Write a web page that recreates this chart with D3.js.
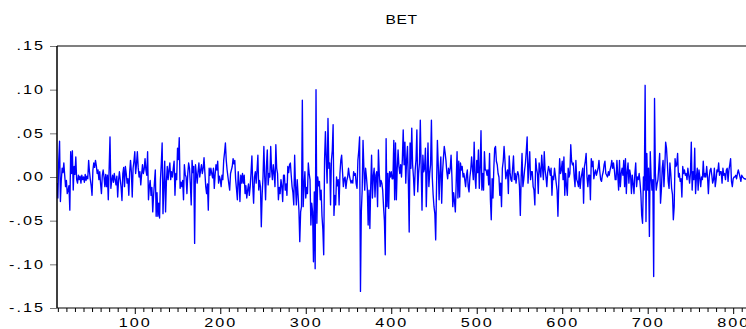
<!DOCTYPE html>
<html>
<head>
<meta charset="utf-8">
<script src="https://cdn.jsdelivr.net/npm/d3@7"></script>
<style>
  html, body { margin: 0; padding: 0; background: #fff; }
  svg { display: block; font-family: "Liberation Sans", Arial, sans-serif; }
</style>
</head>
<body>
<svg id="chart" width="746" height="329"></svg>
<script>
// Series title and axis ticks
const chartTitle = "BET";
const firstObs = 9;
const xTickValues = [100, 200, 300, 400, 500, 600, 700, 800];
const xTickLabels = ["100", "200", "300", "400", "500", "600", "700", "800"];
const yTickValues = [-0.15, -0.10, -0.05, 0.00, 0.05, 0.10, 0.15];
const yTickLabels = ["-.15", "-.10", "-.05", ".00", ".05", ".10", ".15"];

// Daily returns of the BET index, observations 9 .. 815
const betReturns = [
  -.007,-.024,.018,.041,-.028,-.004,.010,.005,.016,.002,
  -.011,-.004,-.019,-.015,-.010,-.038,.029,.004,.030,-.015,
  .012,.003,.023,-.003,-.007,.002,-.003,.001,-.007,.002,
  -.003,.000,-.006,.003,-.004,.001,-.002,.019,.006,-.003,
  -.010,-.021,.008,.016,.011,.019,.013,.004,.008,-.003,
  .006,-.008,-.019,.002,.008,.000,-.011,.003,-.011,.002,
  -.026,.010,.046,-.013,-.004,.002,-.006,.004,-.003,-.009,
  .001,-.023,-.004,.006,-.003,-.012,-.027,.004,.011,-.011,

  .012,.004,-.007,-.002,-.021,.005,.019,.006,-.023,.010,
  .018,.029,.004,.015,.029,.011,.000,.006,-.009,.003,
  .014,.004,.009,.021,.008,.002,.029,-.026,-.011,-.004,
  -.021,-.012,-.040,-.021,-.006,.008,-.045,-.018,-.045,-.030,
  -.047,-.003,.015,.039,-.042,-.010,.018,-.040,-.005,.012,
  -.003,.008,.016,-.003,.006,.000,.010,.018,-.021,.004,
  -.003,.033,.020,.045,-.013,-.006,-.011,-.004,-.026,.014,
  .003,.000,-.019,.004,.016,.010,-.008,-.032,.019,.005,
  .012,-.076,

  .014,.004,-.007,.006,.016,.000,.008,.014,.004,.010,
  .022,.005,-.011,-.019,-.008,-.038,.010,.002,.010,.004,
  -.001,.010,-.013,.003,.014,.008,.018,-.007,.001,-.003,
  -.011,.002,-.003,.019,.028,.039,.019,.008,.000,-.008,
  -.015,.004,.008,.012,.021,.015,.019,-.003,-.014,-.026,
  .006,-.006,-.028,.002,-.007,.004,-.007,.002,-.019,-.010,
  -.024,-.015,-.008,-.021,-.011,.005,.024,-.010,-.030,.000,
  .006,-.007,.008,.025,-.015,-.004,-.011,-.057,-.020,.000,
  .035,.000,

  -.026,.012,.031,-.009,.004,.000,.035,.008,-.003,.014,
  .004,-.011,.037,.010,.004,-.026,-.012,-.019,-.003,-.010,
  -.028,.002,.002,-.015,-.008,-.021,.012,.005,.014,.016,
  .002,-.011,-.018,-.032,.025,-.010,-.032,-.003,-.020,-.038,
  -.074,-.040,-.034,.088,-.034,-.010,.006,-.024,-.012,-.019,
  .016,.004,-.003,-.055,-.030,-.040,-.097,-.017,-.105,.100,
  -.053,.000,-.010,-.005,-.026,-.015,-.045,-.060,-.089,.020,
  .052,.019,-.007,.067,.010,.016,-.032,.019,.030,.060,
  -.044,-.021,

  -.032,.000,-.010,-.003,-.032,.004,.019,.025,.006,-.011,
  -.002,.000,-.013,-.004,.000,.010,.002,-.003,-.007,-.004,
  -.007,.006,.002,.004,-.008,-.013,.019,.030,.046,-.131,
  -.040,-.015,.042,.010,-.015,.010,.000,-.013,-.055,-.015,
  -.059,-.010,.025,-.024,.001,.010,-.023,.002,.006,-.034,
  .031,.004,-.011,-.004,-.007,-.015,-.034,-.050,-.089,.044,
  -.034,.004,-.036,.006,.000,.006,-.002,-.002,.042,-.026,
  .039,-.026,.010,.031,.012,.004,.014,.000,.020,.054,
  .014,.040,

  -.007,.020,.035,-.005,-.063,.039,.010,.056,.014,.000,
  -.021,.008,.020,.054,-.017,.004,.016,.065,.010,-.038,
  .025,.006,.010,.033,-.034,.005,.039,-.011,.004,.014,
  .065,.000,-.020,-.034,-.042,-.072,-.010,.042,.014,-.026,
  .005,.023,-.030,.005,.021,.035,.028,.019,.006,-.002,
  .010,.004,.010,.025,.000,-.034,-.018,-.028,-.040,-.005,
  .029,-.024,.018,-.023,.016,.008,.012,.000,.004,-.003,
  -.011,.002,.008,-.011,-.017,.000,.008,.023,.010,-.003,
  .040,.000,

  -.013,.019,.005,.031,-.013,.010,.053,-.015,.004,-.015,
  .029,.008,.008,.002,.008,-.009,.027,-.026,-.049,-.002,
  -.024,.010,.033,.035,.018,.014,.004,.000,-.021,-.007,
  -.034,.010,.018,.035,.019,-.002,.004,.008,-.019,.024,
  .005,-.003,-.005,.010,.024,-.003,.004,-.007,.002,.006,
  .002,-.011,-.044,.000,.027,-.011,-.003,.008,.016,.030,
  .046,-.007,.012,.029,-.003,.006,.006,-.011,-.015,-.032,
  .021,.010,.004,-.019,.016,.008,.000,.025,.010,-.003,
  .029,.008,

  .000,-.011,.005,.012,.008,.002,.010,-.021,.001,-.003,
  .010,.002,-.007,-.015,-.045,-.007,.021,.004,.008,.018,
  -.003,.023,-.021,.004,-.010,-.021,.010,.000,.004,.037,
  .018,.014,.016,.000,-.011,.019,-.003,-.006,-.011,.006,
  -.013,-.002,.004,.010,-.030,.012,.018,.027,.000,-.011,
  .002,.002,-.026,.021,.012,.018,-.002,.004,.008,.002,
  .006,.010,.019,.006,-.003,-.005,.002,.006,.014,.018,
  .004,.002,.000,.006,.002,.008,.012,.019,.010,.016,
  .008,-.003,

  -.003,.019,.002,-.015,.019,-.011,.004,.010,.002,.019,
  -.011,.021,-.019,.006,.016,-.007,.008,.002,-.019,.002,
  -.008,-.019,.004,.016,-.011,.000,-.003,.004,-.006,-.019,
  -.044,-.053,.000,-.015,.105,-.051,.027,-.015,.010,-.068,
  .029,.000,-.015,-.003,-.114,.090,.004,-.015,-.008,-.003,
  .012,.027,-.030,-.015,.010,.019,-.011,.010,.040,.033,
  .016,-.005,-.013,.016,.004,-.013,-.020,-.049,-.034,.021,
  .012,.014,.027,.000,.004,-.005,

  -.002,-.023,.012,.004,.008,.002,.004,-.003,.010,.002,
  -.007,.004,.040,-.015,.006,-.003,.033,-.019,.000,.010,
  -.015,.008,.000,-.011,.000,-.003,.018,.000,.004,.000,
  .012,.000,-.019,.000,.008,.010,.002,-.007,-.003,.010,
  -.011,-.003,.008,.006,.016,.002,.006,.006,-.007,.010,
  .002,.004,-.003,.008,.010,-.005,.008,.014,.021,-.005,
  -.011,-.002,.000,.000,.002,-.002,.004,.008,.004,.000,
  -.005,.002,.000,-.001,-.002,-.002,-.003
];

const plot = { left: 57, right: 746, top: 46, bottom: 308 };
const labelStretch = 1.35;
const svg = d3.select("#chart");

const x = d3.scaleLinear()
  .domain([firstObs, firstObs + betReturns.length - 1])
  .range([plot.left, plot.right]);
const y = d3.scaleLinear()
  .domain([-0.15, 0.15])
  .range([plot.bottom, plot.top]);

// Title
svg.append("text")
  .attr("text-anchor", "middle")
  .attr("transform", `translate(${(plot.left + plot.right) / 2},24) scale(1.2,1)`)
  .style("font-size", "13px")
  .style("letter-spacing", "0.5px")
  .text(chartTitle);

// Clip region for the series
svg.append("clipPath").attr("id", "plotClip")
  .append("rect")
  .attr("x", plot.left).attr("y", plot.top)
  .attr("width", plot.right - plot.left)
  .attr("height", plot.bottom - plot.top);

// Returns line
const line = d3.line()
  .x((d, i) => x(firstObs + i))
  .y(d => y(d));

svg.append("path")
  .datum(betReturns)
  .attr("clip-path", "url(#plotClip)")
  .attr("fill", "none")
  .attr("stroke", "#0000ff")
  .attr("stroke-width", 1.35)
  .attr("stroke-linejoin", "round")
  .attr("d", line);

// Left axis
const yAxis = svg.append("g")
  .attr("transform", `translate(${plot.left},0)`)
  .call(d3.axisLeft(y)
    .tickValues(yTickValues)
    .tickFormat((d, i) => yTickLabels[i])
    .tickSize(7)
    .tickPadding(6));
yAxis.select(".domain").remove();
yAxis.selectAll(".tick line").attr("stroke", "#777").attr("stroke-width", 1);
yAxis.selectAll(".tick text")
  .attr("x", 0)
  .attr("transform", `translate(-12,0) scale(${labelStretch},1)`)
  .style("font-size", "12px")
  .style("letter-spacing", "1.5px")
  .attr("fill", "#000");

// Minor ticks on the bottom axis
const minorTicks = d3.range(10, 816, 10).filter(v => v % 100 !== 0 && v >= firstObs);
const xMinor = svg.append("g")
  .attr("transform", `translate(0,${plot.bottom})`)
  .call(d3.axisBottom(x).tickValues(minorTicks).tickSize(4).tickFormat(""));
xMinor.select(".domain").remove();
xMinor.selectAll(".tick line").attr("stroke", "#000");

// Major ticks and labels on the bottom axis
const xAxis = svg.append("g")
  .attr("transform", `translate(0,${plot.bottom})`)
  .call(d3.axisBottom(x)
    .tickValues(xTickValues)
    .tickFormat((d, i) => xTickLabels[i])
    .tickSize(6)
    .tickPadding(4));
xAxis.select(".domain").remove();
xAxis.selectAll(".tick line").attr("stroke", "#000");
xAxis.selectAll(".tick text")
  .attr("transform", `scale(${labelStretch},1)`)
  .style("font-size", "12px")
  .style("letter-spacing", "1.5px")
  .attr("fill", "#000");

// Frame: left spine, top border, bottom axis line
svg.append("line")
  .attr("x1", plot.left).attr("x2", plot.left)
  .attr("y1", plot.top).attr("y2", plot.bottom)
  .attr("stroke", "#000").attr("stroke-width", 1.5);
svg.append("line")
  .attr("x1", plot.left).attr("x2", plot.right)
  .attr("y1", plot.top).attr("y2", plot.top)
  .attr("stroke", "#000").attr("stroke-width", 1.2);
svg.append("line")
  .attr("x1", plot.left).attr("x2", plot.right)
  .attr("y1", plot.bottom).attr("y2", plot.bottom)
  .attr("stroke", "#000").attr("stroke-width", 1.2);
</script>
</body>
</html>
